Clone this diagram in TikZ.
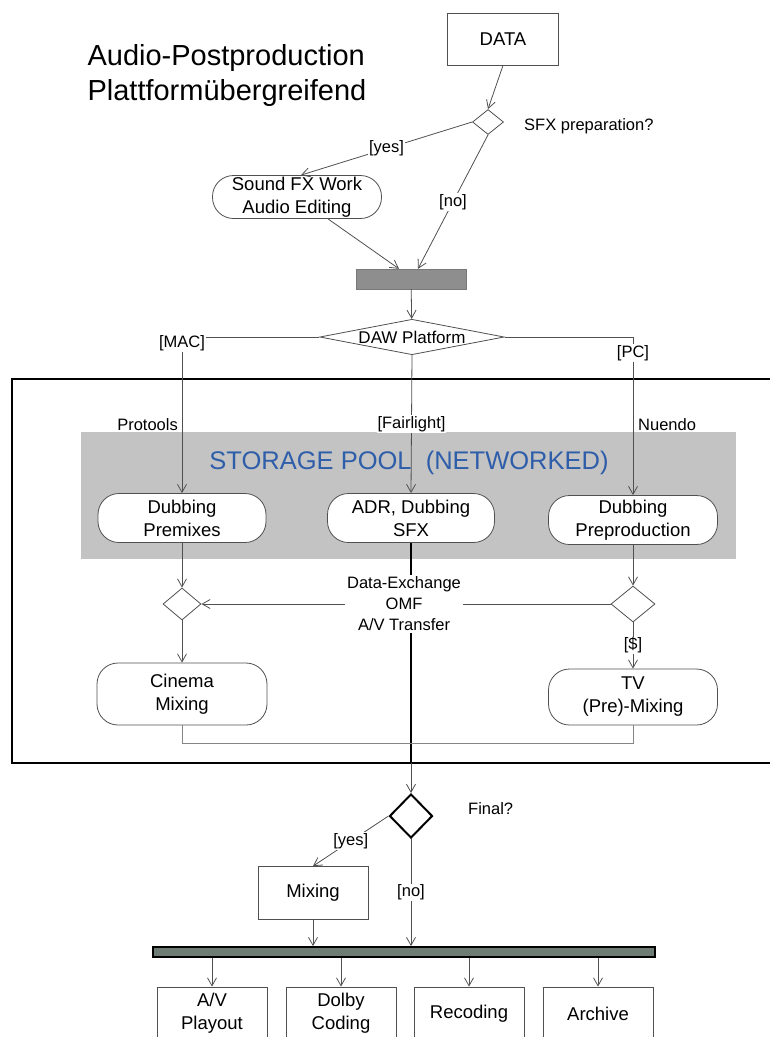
\documentclass[tikz,border=0pt]{standalone}
\usepackage{fontspec}
\setmainfont{Liberation Sans}
\usetikzlibrary{shapes.geometric, positioning, arrows.meta}
\definecolor{PoolGrey}{RGB}{195,195,195}
\definecolor{PoolBlue}{RGB}{46,93,170}
\definecolor{LineGrey}{RGB}{80,80,80}
\definecolor{BarGrey}{RGB}{142,142,142}
\definecolor{ForkGrey}{RGB}{111,123,117}

\begin{document}
\begin{tikzpicture}[x=1pt,y=-1pt,
    every node/.style={text=black},
    txt/.style={font=\fontsize{18.5}{23}\selectfont,align=center,inner sep=0pt},
    lab/.style={font=\fontsize{16.5}{21}\selectfont,fill=white,inner sep=1pt},
    act/.style={txt,draw=LineGrey,line width=0.8pt,fill=white,rounded corners=21pt},
    plainbox/.style={txt,draw=LineGrey,line width=0.8pt,fill=white},
    choice/.style={diamond,draw=LineGrey,line width=0.8pt,fill=white,inner sep=0pt},
    flow/.style={LineGrey,line width=0.8pt,-{Straight Barb[length=8pt,width=9pt]}}]
          \useasboundingbox (0,0) rectangle (770,1037);
          \fill[PoolGrey] (81,432) rectangle (736,559);
          \node[font=\fontsize{25.5}{30}\selectfont,text=PoolBlue] (pool) at (409,463) {STORAGE POOL\ \ (NETWORKED)};
          \draw[line width=2.5pt] (780,379) -- (12,379) -- (12,763) -- (780,763);
          \node[anchor=base west,font=\fontsize{29}{35}\selectfont] (title1) at (84,65) {Audio-Postproduction};
          \node[anchor=base west,font=\fontsize{29}{35}\selectfont] (title2) at (84,100) {Plattformübergreifend};
          \node[plainbox,minimum width=111,minimum height=52] (data) at (503,39) {DATA};
          \node[choice,minimum width=31,minimum height=25] (sfxq) at (488,122) {};
          \node[lab,fill=none,anchor=west] (sfxqlab) at (523,126) {SFX preparation?};
          \node[act,minimum width=169,minimum height=43] (sfxwork) at (297,197) {Sound FX Work\\Audio Editing};
          \node[fill=BarGrey,draw=BarGrey!85!black,minimum width=110,minimum height=20,inner sep=0pt] (join) at (411,279) {};
          \node[choice,shape aspect=5.2,inner sep=1pt,minimum width=178,minimum height=34,font=\fontsize{17}{20}\selectfont] (daw) at (412,337) {DAW Platform};
          \node[lab,fill=none,anchor=east] (protools) at (179,425) {Protools};
          \node[lab,fill=none,anchor=west] (nuendo) at (637,425) {Nuendo};
          \node[act,minimum width=168,minimum height=49] (premix) at (182,518) {Dubbing\\Premixes};
          \node[act,minimum width=167,minimum height=49] (adr) at (411,518) {ADR, Dubbing\\SFX};
          \node[act,minimum width=169,minimum height=49] (preprod) at (633,520) {Dubbing\\Preproduction};
          \node[choice,minimum width=38,minimum height=32] (mergeL) at (182,604) {};
          \node[choice,minimum width=44,minimum height=36] (mergeR) at (633,604) {};
          \node[lab,align=center,inner sep=2pt] (xfer) at (404,604) {Data-Exchange\\OMF\\A/V Transfer};
          \node[act,minimum width=170,minimum height=62] (cinema) at (182,694) {Cinema\\Mixing};
          \node[act,minimum width=169,minimum height=56] (tv) at (633,697) {TV\\(Pre)-Mixing};
          \coordinate (exit) at (411,763);
          \node[choice,draw=black,line width=2pt,minimum width=43,minimum height=44] (final) at (411,816) {};
          \node[lab,fill=none,anchor=west] (finallab) at (467,809) {Final?};
          \node[plainbox,minimum width=110,minimum height=53] (mixing) at (313,893) {Mixing};
          \node[fill=ForkGrey,draw=black,line width=1.8pt,minimum width=502,minimum height=10,inner sep=0pt] (fork) at (404,952) {};
          \node[plainbox,minimum width=110,minimum height=53] (playout) at (212,1013.5) {A/V\\Playout};
          \node[plainbox,minimum width=110,minimum height=53] (dolby) at (341,1013.5) {Dolby\\Coding};
          \node[plainbox,minimum width=110,minimum height=53] (recoding) at (469,1013.5) {Recoding};
          \node[plainbox,minimum width=110,minimum height=53] (archive) at (598,1013.5) {Archive};
          \draw[flow] (data.south) -- (sfxq.north);
          \draw[flow] (sfxq.west) -- node[lab]{[yes]} ([xshift=4pt]sfxwork.north);
          \draw[flow] (sfxq.south) -- node[lab]{[no]} ([xshift=7pt]join.north);
          \draw[flow] ([xshift=31pt]sfxwork.south) -- ([xshift=-12pt]join.north);
          \draw[flow] (join) -- (daw);
          \draw[flow] (daw.west) -| node[lab,yshift=-6pt]{[MAC]} (premix.north);
          \draw[flow] (daw.east) -| node[lab,pos=0.55]{[PC]} (preprod.north);
          \draw[flow] (daw.south) -- node[lab]{[Fairlight]} (adr.north);
          \draw[flow] (premix) -- (mergeL);
          \draw[flow] (preprod) -- (mergeR);
          \draw[LineGrey,line width=0.8pt] (mergeR.west) -- (xfer.east);
          \draw[flow] (xfer.west) -- (mergeL.east);
          \draw[line width=2.5pt] (adr.south) -- (adr.south |- xfer.north);
          \draw[line width=2.5pt] (adr.south |- xfer.south) -- (exit);
          \draw[flow] (mergeL) -- (cinema);
          \draw[flow] (mergeR) -- node[lab]{[\$]} (tv);
          \draw[LineGrey!70,line width=0.8pt] (cinema.south) -- ++(0,18) -| (tv.south);
          \draw[flow] (exit) -- (final.north);
          \draw[flow] (final.west) -- node[lab]{[yes]} (mixing.north);
          \draw[flow] (final.south) -- node[lab]{[no]} (final.south |- fork.north);
          \draw[flow] (mixing.south) -- (mixing.south |- fork.north);
          \foreach \out in {playout,dolby,recoding,archive}
            \draw[flow] (fork.south -| \out.north) -- (\out.north);
        \end{tikzpicture}
\end{document}
